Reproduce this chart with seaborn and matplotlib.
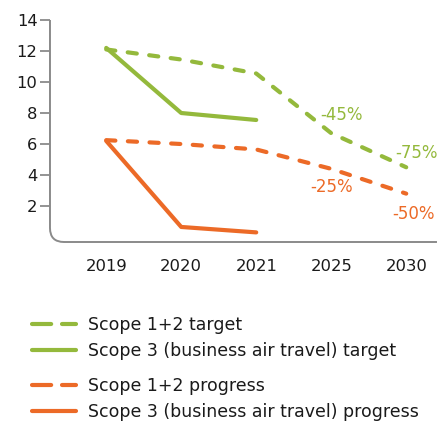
import matplotlib
matplotlib.use('Agg')
import matplotlib.pyplot as plt
import seaborn as sns
import pandas as pd
from matplotlib.path import Path
from matplotlib.patches import PathPatch
from matplotlib.lines import Line2D

sns.set_style('white')
plt.rcParams['font.family'] = ['DejaVu Sans']

# data
years = ['2019', '2020', '2021', '2025', '2030']
scope12_target = [12.1, 11.45, 10.55, 6.7, 4.5]
scope3_target = [12.2, 8.0, 7.55]
scope12_progress = [6.25, 6.0, 5.65, 4.4, 2.8]
scope3_progress = [6.2, 0.65, 0.3]

green_labels = ['-45%', '-75%']
orange_labels = ['-25%', '-50%']

GREEN = '#94b93c'
ORANGE = '#ec6a27'
GREY = '#8a8a8a'
TXT = '#1a1a1a'

series = [
    ('Scope 1+2 target', scope12_target, GREEN, True),
    ('Scope 3 (business air travel) target', scope3_target, GREEN, False),
    ('Scope 1+2 progress', scope12_progress, ORANGE, True),
    ('Scope 3 (business air travel) progress', scope3_progress, ORANGE, False),
]

fig = plt.figure(figsize=(4.40, 4.29), dpi=100)
ax = fig.add_axes([0.1136, 0.4359, 0.8795, 0.5175])

handles = []
for name, vals, col, dashed in series:
    df = pd.DataFrame({'x': range(len(vals)), 'y': vals})
    sns.lineplot(data=df, x='x', y='y', ax=ax, color=col, lw=3.0,
                 label=name, legend=False)
    ln = ax.get_lines()[-1]
    ln.set_solid_capstyle('round')
    h = Line2D([], [], color=col, lw=3.0, solid_capstyle='round')
    if dashed:
        ln.set_dashes([2.2, 3.0])
        ln.set_dash_capstyle('round')
        h.set_dashes([4.6, 2.6])
        h.set_dash_capstyle('round')
    handles.append(h)

# percentage annotations
pct_kw = dict(fontsize=12, va='center')
ax.text(2.85, 7.9, green_labels[0], color=GREEN, **pct_kw)
ax.text(3.86, 5.4, green_labels[1], color=GREEN, **pct_kw)
ax.text(2.72, 3.2, orange_labels[0], color=ORANGE, **pct_kw)
ax.text(3.82, 1.5, orange_labels[1], color=ORANGE, **pct_kw)

ax.set_xlim(-0.75, 4.41)
ax.set_ylim(-0.32, 14)
ax.set_xticks(range(len(years)))
ax.set_xticklabels(years)
ax.set_yticks([2, 4, 6, 8, 10, 12, 14])
ax.set_xlabel('')
ax.set_ylabel('')
ax.tick_params(axis='y', length=7, width=1.3, color=GREY, pad=2, labelsize=11.8,
               labelcolor=TXT, left=True)
ax.tick_params(axis='x', length=0, pad=12, labelsize=11.8, labelcolor=TXT)

for s in ax.spines.values():
    s.set_visible(False)

# axis line with a rounded corner
rx, ry = 14 / 387, 14 / 222
verts = [(0, 1), (0, ry), (0, 0), (rx, 0), (1, 0)]
codes = [Path.MOVETO, Path.LINETO, Path.CURVE3, Path.CURVE3, Path.LINETO]
ax.add_patch(PathPatch(Path(verts, codes), transform=ax.transAxes, fill=False,
                       edgecolor=GREY, lw=1.4, clip_on=False))

leg_kw = dict(frameon=False, fontsize=12.5, handlelength=2.5, handletextpad=0.7,
              labelspacing=0.45, borderpad=0, borderaxespad=0, loc='upper left')
fig.legend(handles=handles[:2], labels=[s[0] for s in series[:2]],
           bbox_to_anchor=(0.073, 1 - 316 / 429), labelcolor=TXT, **leg_kw)
fig.legend(handles=handles[2:], labels=[s[0] for s in series[2:]],
           bbox_to_anchor=(0.073, 1 - 377 / 429), labelcolor=TXT, **leg_kw)

fig.savefig('out.png', dpi=100)
